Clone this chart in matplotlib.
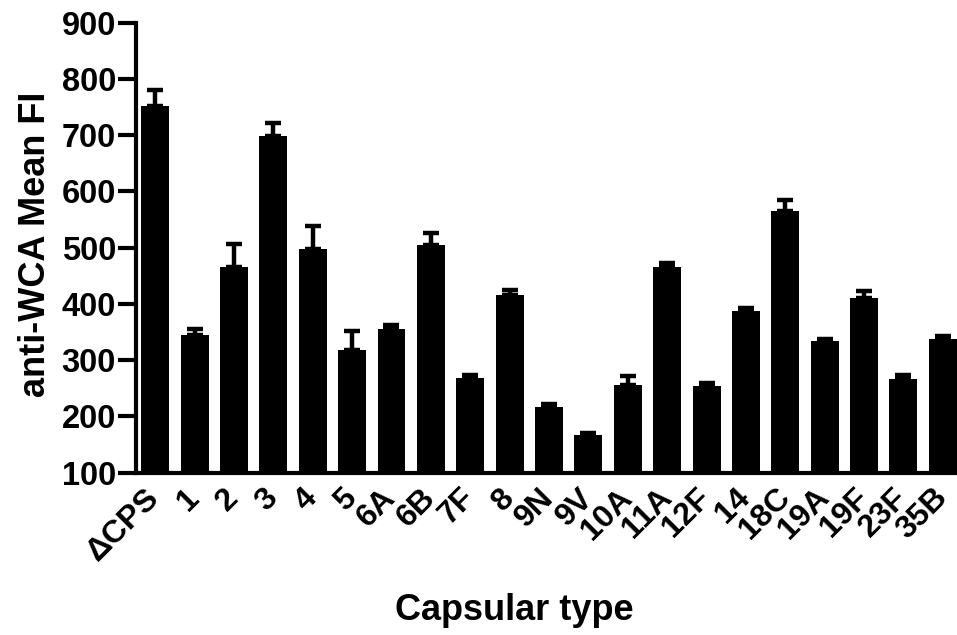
import matplotlib
matplotlib.use("Agg")
import matplotlib.pyplot as plt
import numpy as np

categories = ["ΔCPS", "1", "2", "3", "4", "5", "6A", "6B", "7F", "8", "9N", "9V",
              "10A", "11A", "12F", "14", "18C", "19A", "19F", "23F", "35B"]
means = [752, 345, 466, 698, 498, 318, 356, 504, 268, 416, 217, 166,
         255, 466, 254, 388, 565, 334, 411, 267, 337]
errors = [28, 10, 40, 23, 40, 33, 6, 22, 5, 9, 4, 5,
          16, 7, 5, 4, 20, 3, 12, 6, 6]
yticks = [100, 200, 300, 400, 500, 600, 700, 800, 900]

plt.rcParams['font.family'] = ['Liberation Sans', 'DejaVu Sans']
plt.rcParams['font.weight'] = 'bold'

fig = plt.figure(figsize=(9.57, 6.35), dpi=100)
ax = fig.add_axes([0.1416, 0.2559, 1.0 - 0.1416, 0.9643 - 0.2559])

x = np.arange(len(categories))
base = yticks[0]
heights = [m - base for m in means]
ax.bar(x, heights, bottom=base, width=0.71, color='black', edgecolor='none', zorder=2)
ax.errorbar(x, means, yerr=[np.zeros(len(errors)), errors], fmt='none',
            ecolor='black', elinewidth=3.2, capsize=6, capthick=3.2, zorder=3)

ax.set_xlim(-0.5, 20.36)
ax.set_ylim(yticks[0], yticks[-1])
ax.set_yticks(yticks)
ax.set_yticklabels([str(t) for t in yticks], fontsize=23.5, fontweight='bold')
ax.set_xticks(x)
ax.set_xticklabels(categories, fontsize=23, fontweight='bold', rotation=45,
                   ha='right', va='center', rotation_mode='anchor')

for s in ['top', 'right']:
    ax.spines[s].set_visible(False)
for s in ['left', 'bottom']:
    ax.spines[s].set_linewidth(3)
    ax.spines[s].set_capstyle('projecting')

ax.tick_params(axis='y', length=13, width=3, pad=1, direction='out')
ax.tick_params(axis='x', length=0, pad=15)

fig.text(514 / 957, 1 - 610 / 635, "Capsular type", fontsize=26, fontweight='bold',
         ha='center', va='center')
fig.text(36 / 957, 1 - 244 / 635, "anti-WCA Mean FI", fontsize=26, fontweight='bold',
         ha='center', va='center', rotation=90)

fig.savefig("out.png", dpi=100)
